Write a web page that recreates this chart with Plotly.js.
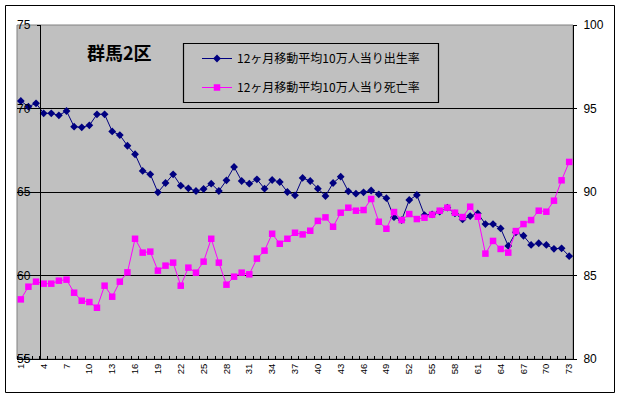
<!DOCTYPE html>
<html><head><meta charset="utf-8">
<script src="https://cdn.plot.ly/plotly-3.0.1.min.js"></script>
<style>html,body{margin:0;padding:0;background:#fff}#c{width:621px;height:398px}</style>
</head><body><div id="c"></div>
<script>
const months = [1,2,3,4,5,6,7,8,9,10,11,12,13,14,15,16,17,18,19,20,21,22,23,24,25,26,27,28,29,30,31,32,33,34,35,36,37,38,39,40,41,42,43,44,45,46,47,48,49,50,51,52,53,54,55,56,57,58,59,60,61,62,63,64,65,66,67,68,69,70,71,72,73];
const birthRate = [70.45,70.11,70.31,69.71,69.71,69.59,69.85,68.91,68.87,68.99,69.65,69.65,68.63,68.41,67.77,67.26,66.26,66.06,64.98,65.54,66.06,65.38,65.22,65.06,65.18,65.50,65.06,65.70,66.50,65.66,65.50,65.76,65.20,65.72,65.60,65.00,64.80,65.84,65.66,65.20,64.76,65.54,65.92,65.04,64.90,64.98,65.09,64.86,64.63,63.49,63.32,64.52,64.82,63.62,63.66,63.82,64.06,63.72,63.36,63.56,63.72,63.08,63.08,62.82,61.77,62.59,62.38,61.83,61.93,61.83,61.60,61.63,61.16];
const deathRate = [83.57,84.33,84.63,84.51,84.51,84.69,84.75,83.97,83.49,83.41,83.07,84.39,83.73,84.63,85.19,87.20,86.37,86.43,85.29,85.59,85.77,84.39,85.47,85.17,85.83,87.20,85.77,84.45,84.93,85.17,85.07,86.01,86.49,87.50,86.90,87.20,87.56,87.46,87.68,88.27,88.48,87.92,88.76,89.06,88.88,88.92,89.58,88.22,87.80,88.80,88.32,88.68,88.38,88.46,88.64,88.88,89.06,88.76,88.50,89.12,88.52,86.31,87.07,86.59,86.37,87.66,88.08,88.32,88.88,88.82,89.48,90.70,91.80];
const xTickVals = [1,4,7,10,13,16,19,22,25,28,31,34,37,40,43,46,49,52,55,58,61,64,67,70,73];
const leftTicks = [55,60,65,70,75];
const rightTicks = [80,85,90,95,100];
const seriesNames = ['12ヶ月移動平均10万人当り出生率','12ヶ月移動平均10万人当り死亡率'];
const chartTitle = '群馬2区';

const W=621,H=398,L=17,R=48,T=25,B=39;
const pw=W-L-R, ph=H-T-B;
const px = x => (x-L)/pw;
const py = y => (H-B-y)/ph;

const traces = [
 {x:months, y:birthRate, name:seriesNames[0], type:'scatter', mode:'lines+markers', yaxis:'y', legendgroup:'a',
  line:{color:'#000080', width:1}, marker:{symbol:'diamond', size:6, color:'#000080'}},
 {x:months, y:deathRate, name:seriesNames[1], type:'scatter', mode:'lines+markers', yaxis:'y2', legendgroup:'b',
  line:{color:'#FF00FF', width:1}, marker:{symbol:'square', size:6.5, color:'#FF00FF'}}
];
const tickFont = {family:'Liberation Sans, Arial, sans-serif', size:12, color:'#000'};
const titleFont = 'Noto Sans CJK JP, sans-serif';
const layout = {
 width:W, height:H, margin:{l:L, r:R, t:T, b:B, pad:0},
 paper_bgcolor:'#fff', plot_bgcolor:'#C0C0C0',
 showlegend:true,
 legend:{x:px(197), y:py(44), xanchor:'left', yanchor:'top', bgcolor:'rgba(0,0,0,0)', borderwidth:0,
   traceorder:'grouped', tracegroupgap:10,
   font:{family:'Noto Sans CJK JP, sans-serif', size:12, color:'#000'}},
 xaxis:{range:[0.5,73.5], tickmode:'array', tickvals:xTickVals, ticktext:xTickVals.map(String), tickangle:-90,
   ticks:'', showgrid:false, zeroline:false, showline:true, linecolor:'#000', linewidth:1,
   tickfont:{family:'Liberation Sans, Arial, sans-serif', size:9.5, color:'#000'},
   minor:{ticks:'inside', ticklen:3, tickcolor:'#000', tickmode:'linear', tick0:0.5, dtick:1, showgrid:false}},
 yaxis:{range:[55,75], tickmode:'array', tickvals:leftTicks, anchor:'free', position:3/73,
   showline:true, linecolor:'#000', linewidth:1, ticks:'outside', ticklen:3, tickcolor:'#000',
   showgrid:true, gridcolor:'#000', gridwidth:1, zeroline:false, tickfont:tickFont, ticklabelstandoff:4},
 yaxis2:{range:[80,100], tickmode:'array', tickvals:rightTicks, overlaying:'y', side:'right', anchor:'x',
   showline:true, linecolor:'#000', linewidth:1, ticks:'outside', ticklen:3, tickcolor:'#000',
   showgrid:false, zeroline:false, tickfont:tickFont, ticklabelstandoff:4},
 shapes:[
  {type:'rect', xref:'paper', yref:'paper', x0:0, x1:1, y0:0, y1:1, line:{color:'#808080', width:1}, layer:'below'},
  {type:'rect', xref:'paper', yref:'paper', x0:px(5.5), x1:px(614.5), y0:py(392.5), y1:py(5.5), line:{color:'#000', width:1}, layer:'above'},
  {type:'rect', xref:'paper', yref:'paper', x0:px(183.5), x1:px(438.5), y0:py(102.5), y1:py(43.5), line:{color:'#000', width:1.2}, fillcolor:'rgba(0,0,0,0)', layer:'above'}
 ],
 annotations:[
  {text:'<b>'+chartTitle+'</b>', xref:'paper', yref:'paper', x:px(120), y:py(52), xanchor:'center', yanchor:'middle', showarrow:false,
   font:{family:titleFont, size:18, color:'#000'}}
 ]
};
Plotly.newPlot('c', traces, layout, {displayModeBar:false, staticPlot:true});
</script></body></html>
